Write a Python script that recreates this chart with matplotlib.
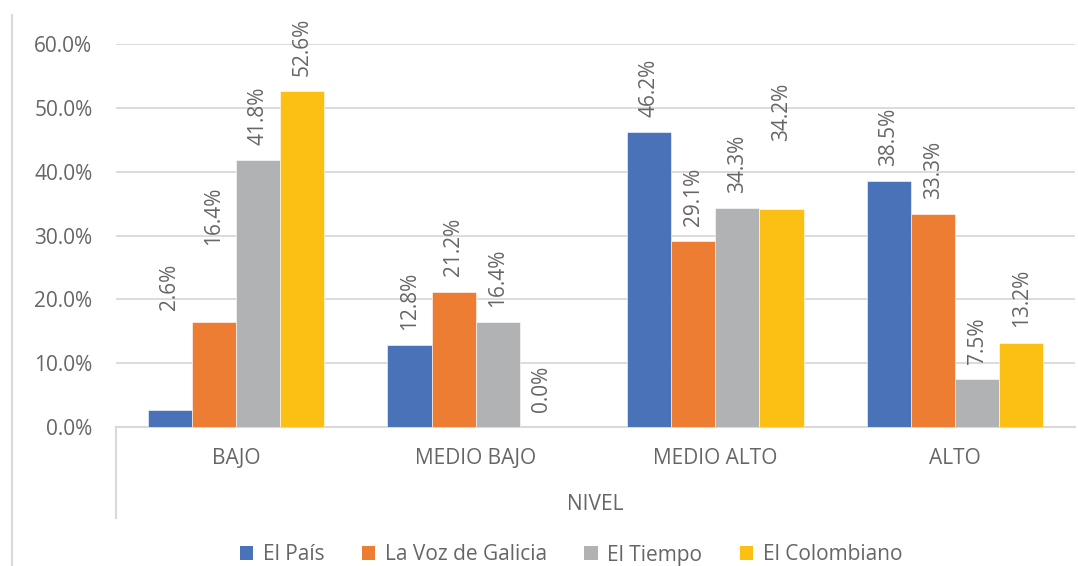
import matplotlib
matplotlib.use('Agg')
import matplotlib.pyplot as plt
from matplotlib.patches import Patch
from matplotlib.lines import Line2D
import numpy as np

plt.rcParams['font.family'] = ['Open Sans', 'DejaVu Sans']

niveles = ['BAJO', 'MEDIO BAJO', 'MEDIO ALTO', 'ALTO']
series = ['El País', 'La Voz de Galicia', 'El Tiempo', 'El Colombiano']
el_pais = [2.6, 12.8, 46.2, 38.5]
la_voz = [16.4, 21.2, 29.1, 33.3]
el_tiempo = [41.8, 16.4, 34.3, 7.5]
el_colombiano = [52.6, 0.0, 34.2, 13.2]
colores = ['#4A72B8', '#EC7D33', '#B1B2B4', '#FCC014']

# etiquetas movidas a mano en el original (serie, categoria) -> base de la etiqueta
etiquetas_movidas = {(0, 0): 18.3, (1, 0): 28.5, (3, 2): 44.8}

gris_txt = '#666666'
gris_lin = '#D9D9D9'
fs = 15

fig = plt.figure(figsize=(10.78, 5.66), dpi=100)
ax = fig.add_axes([116 / 1078, 1 - 427 / 566, (1075 - 116) / 1078, (427 - 44) / 566])

valores = [el_pais, la_voz, el_tiempo, el_colombiano]
x = np.arange(len(niveles))
ancho = 0.184
for i, (nombre, vals) in enumerate(zip(series, valores)):
    pos = x + (i - 1.5) * ancho
    ax.bar(pos, vals, ancho, color=colores[i], edgecolor='white', linewidth=0.4,
           label=nombre, zorder=3)
    for j, v in enumerate(vals):
        base = etiquetas_movidas.get((i, j), v + 2.4)
        ax.text(pos[j], base, f'{v:.1f}%', rotation=90, ha='center', va='bottom',
                fontsize=fs, color=gris_txt, zorder=4)

ax.set_xlim(-0.5, 3.5)
ax.set_ylim(0, 60)
ax.set_yticks(np.arange(0, 61, 10))
ax.set_yticklabels([f'{t:.1f}%' for t in np.arange(0, 61, 10)])
ax.yaxis.grid(True, color=gris_lin, linewidth=1.3, zorder=0)
ax.set_axisbelow(True)
ax.tick_params(axis='y', length=0, pad=17, labelsize=fs, labelcolor=gris_txt)
ax.set_xticks(x)
ax.set_xticklabels(niveles)
ax.tick_params(axis='x', length=0, pad=15, labelsize=fs, labelcolor=gris_txt)
for s in ['top', 'right', 'left']:
    ax.spines[s].set_visible(False)
ax.spines['bottom'].set_color(gris_lin)
ax.spines['bottom'].set_linewidth(1.5)

# eje de categorias multinivel
fig.add_artist(Line2D([116 / 1078, 116 / 1078], [1 - 427 / 566, 1 - 518 / 566],
                      color=gris_lin, linewidth=1.5))
fig.text((116 + 1075) / 2 / 1078, 1 - 505 / 566, 'NIVEL', ha='center', va='center',
         fontsize=fs, color=gris_txt)

# borde del grafico
fig.add_artist(Line2D([12 / 1078, 12 / 1078], [1 - 15 / 566, 0],
                      color=gris_lin, linewidth=1.5))

handles = [Patch(facecolor=c, edgecolor='none') for c in colores]
fig.legend(handles, series, loc='center', bbox_to_anchor=(571 / 1078, 1 - 555 / 566),
           ncol=4, frameon=False, fontsize=fs, labelcolor=gris_txt,
           handlelength=0.65, handleheight=0.65, handletextpad=0.45, columnspacing=1.8)

fig.savefig('out.png', dpi=100)
